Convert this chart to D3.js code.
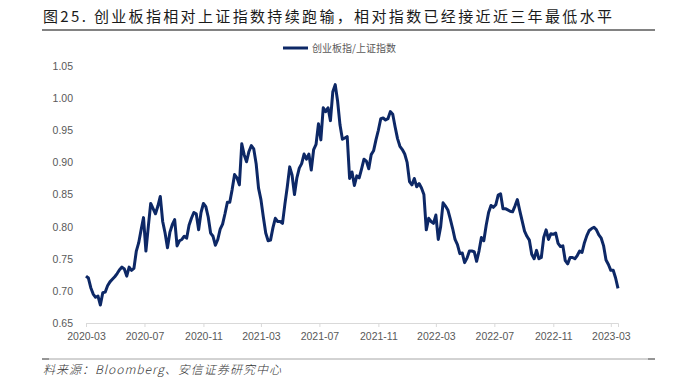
<!DOCTYPE html>
<html lang="zh">
<head>
    <meta charset="UTF-8">
    <title>创业板指/上证指数</title>
    <script src="https://d3js.org/d3.v7.min.js"></script>
    <style>
        body {
            margin: 0;
            background: #fff;
        }

        .title {
            font-family: "Noto Sans CJK SC", sans-serif;
            font-size: 15px;
            font-weight: 400;
            fill: #1a1a1a;
        }

        .axis text {
            font-family: "Liberation Sans", Arial, sans-serif;
            font-size: 10.5px;
            fill: #595959;
        }

        .legend text {
            font-family: "Noto Sans CJK SC", sans-serif;
            font-size: 10px;
            fill: #595959;
        }

        .source {
            font-family: "Noto Sans CJK SC", sans-serif;
            font-size: 12px;
            font-style: italic;
            font-weight: 300;
            fill: #333;
        }
    </style>
</head>
<body>
    <svg width="673" height="378"></svg>

    <script>
        const titleText = "图25. 创业板指相对上证指数持续跑输，相对指数已经接近近三年最低水平";
        const seriesName = "创业板指/上证指数";
        const sourceText = "料来源：Bloomberg、安信证券研究中心";

        // ratio sampled every 5 calendar days from 2020-03-01
        const startDate = "2020-03-01";
        const stepDays = 5;
        const ratio = [
            0.723, 0.720, 0.705, 0.695, 0.690, 0.692, 0.678, 0.697, 0.698, 0.708,
            0.714, 0.718, 0.722, 0.727, 0.733, 0.737, 0.734, 0.723, 0.737, 0.732,
            0.735, 0.762, 0.775, 0.795, 0.814, 0.762, 0.800, 0.836, 0.828, 0.820,
            0.832, 0.847, 0.808, 0.790, 0.767, 0.791, 0.803, 0.811, 0.770, 0.778,
            0.780, 0.785, 0.782, 0.802, 0.813, 0.822, 0.820, 0.795, 0.822, 0.836,
            0.831, 0.815, 0.790, 0.785, 0.771, 0.780, 0.796, 0.804, 0.820, 0.838,
            0.838, 0.858, 0.881, 0.876, 0.865, 0.929, 0.912, 0.901, 0.917, 0.926,
            0.921, 0.898, 0.860, 0.842, 0.815, 0.790, 0.778, 0.779, 0.798, 0.813,
            0.808, 0.808, 0.805, 0.835, 0.862, 0.893, 0.880, 0.850, 0.876, 0.891,
            0.898, 0.913, 0.905, 0.913, 0.888, 0.920, 0.928, 0.960, 0.935, 0.985,
            0.979, 0.985, 0.965, 1.010, 1.021, 0.995, 0.958, 0.936, 0.938, 0.940,
            0.875, 0.885, 0.864, 0.879, 0.876, 0.890, 0.905, 0.902, 0.890, 0.912,
            0.918, 0.935, 0.950, 0.968, 0.969, 0.966, 0.968, 0.979, 0.975, 0.955,
            0.937, 0.925, 0.920, 0.913, 0.900, 0.870, 0.865, 0.875, 0.862, 0.867,
            0.860, 0.850, 0.795, 0.813, 0.808, 0.805, 0.818, 0.780, 0.800, 0.837,
            0.832, 0.826, 0.812, 0.797, 0.780, 0.772, 0.758, 0.759, 0.744, 0.751,
            0.762, 0.762, 0.761, 0.746, 0.762, 0.783, 0.778, 0.802, 0.822, 0.833,
            0.830, 0.834, 0.849, 0.851, 0.828, 0.828, 0.826, 0.824, 0.823, 0.832,
            0.842, 0.825, 0.809, 0.793, 0.785, 0.779, 0.757, 0.750, 0.763, 0.750,
            0.752, 0.783, 0.795, 0.780, 0.789, 0.788, 0.790, 0.774, 0.769, 0.770,
            0.747, 0.742, 0.752, 0.752, 0.750, 0.755, 0.762, 0.760, 0.775, 0.786,
            0.794, 0.797, 0.799, 0.795, 0.787, 0.782, 0.770, 0.748, 0.741, 0.732,
            0.732, 0.720, 0.704
        ];

        const xTickLabels = ["2020-03", "2020-07", "2020-11", "2021-03", "2021-07",
            "2021-11", "2022-03", "2022-07", "2022-11", "2023-03"];
        const yTicks = [0.65, 0.70, 0.75, 0.80, 0.85, 0.90, 0.95, 1.00, 1.05];

        const parseDay = d3.timeParse("%Y-%m-%d");
        const parseMonth = d3.timeParse("%Y-%m");
        const start = parseDay(startDate);
        const data = ratio.map((v, i) => ({ date: d3.timeDay.offset(start, i * stepDays), value: v }));

        const svg = d3.select("svg");
        const margin = { left: 86, right: 55, top: 66, bottom: 55 };
        const width = 673, height = 378;

        const x = d3.scaleTime()
            .domain([start, data[data.length - 1].date])
            .range([margin.left, width - margin.right]);

        const y = d3.scaleLinear()
            .domain([0.65, 1.05])
            .range([height - margin.bottom, margin.top]);

        // title + rule
        svg.append("text")
            .attr("class", "title")
            .attr("x", 43)
            .attr("y", 22)
            .attr("textLength", 569)
            .attr("lengthAdjust", "spacing")
            .text(titleText);

        svg.append("line")
            .attr("x1", 42).attr("x2", 655)
            .attr("y1", 30).attr("y2", 30)
            .attr("stroke", "#595959")
            .attr("stroke-width", 1.3);

        // legend
        const legend = svg.append("g").attr("class", "legend");
        legend.append("line")
            .attr("x1", 283).attr("x2", 308)
            .attr("y1", 48).attr("y2", 48)
            .attr("stroke", "#0d2866")
            .attr("stroke-width", 3);
        legend.append("text")
            .attr("x", 312)
            .attr("y", 51.5)
            .text(seriesName);

        // y axis (labels only)
        const yAxis = svg.append("g")
            .attr("class", "axis")
            .attr("transform", `translate(${margin.left - 13},0)`)
            .call(d3.axisLeft(y).tickValues(yTicks).tickFormat(d3.format(".2f")).tickSize(0).tickPadding(0));
        yAxis.select(".domain").remove();

        // x axis
        const xAxis = svg.append("g")
            .attr("class", "axis")
            .attr("transform", `translate(0,${y(0.65)})`)
            .call(d3.axisBottom(x)
                .tickValues(xTickLabels.map(parseMonth))
                .tickFormat(d3.timeFormat("%Y-%m"))
                .tickSize(4)
                .tickPadding(6));
        xAxis.select(".domain").attr("stroke", "#d9d9d9");
        xAxis.selectAll(".tick line").attr("stroke", "#d9d9d9");

        // series
        const line = d3.line()
            .x(d => x(d.date))
            .y(d => y(d.value));

        svg.append("path")
            .datum(data)
            .attr("fill", "none")
            .attr("stroke", "#0d2866")
            .attr("stroke-width", 3)
            .attr("stroke-linejoin", "round")
            .attr("d", line);

        // bottom rule + source
        svg.append("line")
            .attr("x1", 42).attr("x2", 655)
            .attr("y1", 359).attr("y2", 359)
            .attr("stroke", "#a6a6a6")
            .attr("stroke-width", 1);
        [[42, 49], [648, 655]].forEach(([a, b]) => {
            svg.append("line")
                .attr("x1", a).attr("x2", b)
                .attr("y1", 359).attr("y2", 359)
                .attr("stroke", "#595959")
                .attr("stroke-width", 1);
        });

        svg.append("text")
            .attr("class", "source")
            .attr("x", 43)
            .attr("y", 374)
            .attr("textLength", 238)
            .attr("lengthAdjust", "spacing")
            .text(sourceText);
    </script>
</body>
</html>
